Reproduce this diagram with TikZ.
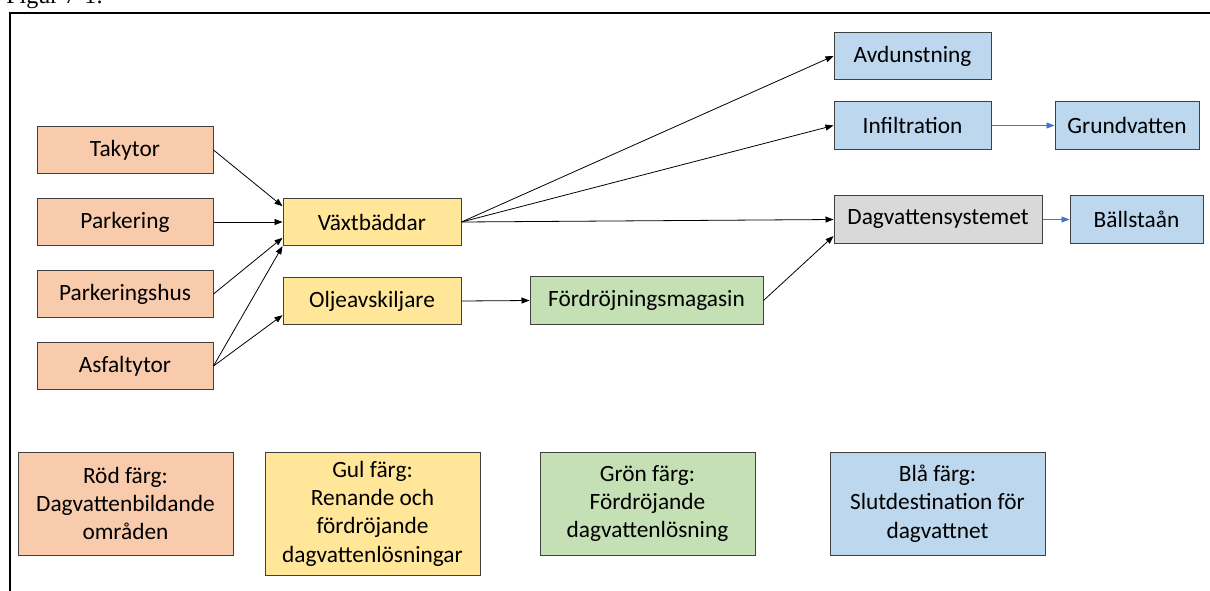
\documentclass[tikz,border=0pt]{standalone}
\usepackage{fontspec}
\setmainfont{Carlito}
\newfontfamily\figfont{Liberation Serif}
\usetikzlibrary{arrows.meta}
\definecolor{ytor}{HTML}{F8CBAD}
\definecolor{rening}{HTML}{FFE699}
\definecolor{magasin}{HTML}{C5E0B4}
\definecolor{slut}{HTML}{BDD7EE}
\definecolor{ledning}{HTML}{D9D9D9}
\definecolor{kant}{HTML}{404040}
\definecolor{blapil}{HTML}{4472C4}

\begin{document}
\begin{tikzpicture}[x=0.75pt, y=-0.75pt,
	box/.style={draw=kant, line width=0.75pt, minimum height=35.5pt, inner sep=0pt,
		align=center, font=\fontsize{17.5}{21.25}\selectfont},
	legend/.style={box, minimum width=161.25pt, minimum height=77.25pt},
	flow/.style={-{Triangle[length=6pt, width=4.5pt]}, line width=0.6pt},
	blueflow/.style={flow, draw=blapil}]
	\useasboundingbox (0,0) rectangle (1210,590);

	\node (fig) at (6,3) [anchor=base west, inner sep=0pt, font=\figfont\fontsize{18}{20}\selectfont] {Figur 7-1:};
	\draw[line width=1.5pt] (10,13) rectangle (1240,620);

	% Sources
	\node (tak)  at (125,150) [box, fill=ytor, minimum width=132pt] {Takytor};
	\node (park) at (125,222) [box, fill=ytor, minimum width=132pt] {Parkering};
	\node (phus) at (125,294) [box, fill=ytor, minimum width=132pt] {Parkeringshus};
	\node (asf)  at (125,366) [box, fill=ytor, minimum width=132pt] {Asfaltytor};

	% Treatment
	\node (vaxt) at (372,222)   [box, fill=rening, minimum width=133.5pt] {Växtbäddar};
	\node (olja) at (372,301)   [box, fill=rening, minimum width=133.5pt] {Oljeavskiljare};
	\node (ford) at (646.5,300.5) [box, fill=magasin, minimum width=174.75pt] {Fördröjningsmagasin};

	% Destinations
	\node (avd)  at (912.5,56)    [box, fill=slut, minimum width=117.75pt] {Avdunstning};
	\node (inf)  at (912.5,125.5) [box, fill=slut, minimum width=117.75pt] {Infiltration};
	\node (grv)  at (1127,125.5)  [box, fill=slut, minimum width=108pt] {Grundvatten};
	\node (dagv) at (938,219.5)   [box, fill=ledning, minimum width=156pt] {Dagvattensystemet};
	\node (bal)  at (1136.5,219.5) [box, fill=slut, minimum width=99.75pt] {Bällstaån};

	% Legend
	\node (lrod) at (125.5,503.5) [legend, fill=ytor] {Röd färg:\\Dagvattenbildande\\områden};
	\node (lgul) at (372.5,513.5) [legend, fill=rening, minimum height=92.25pt] {Gul färg:\\Renande och\\fördröjande\\dagvattenlösningar};
	\node (lgro) at (647.5,503.5) [legend, fill=magasin] {Grön färg:\\Fördröjande\\dagvattenlösning};
	\node (lbla) at (937.5,503.5) [legend, fill=slut] {Blå färg:\\Slutdestination för\\dagvattnet};

	% Draw the flows between the nodes
	\draw[flow] (tak.east) -- (vaxt.170);
	\draw[flow] (park.east) -- (vaxt.west);
	\draw[flow] (phus.east) -- (vaxt.190);
	\draw[flow] (asf.east) -- (vaxt.south west);
	\draw[flow] (asf.east) -- (olja.189);
	\draw[flow] (vaxt.east) -- (avd.west);
	\draw[flow] (vaxt.east) -- (inf.west);
	\draw[flow] (vaxt.east) -- (dagv.west);
	\draw[flow] (olja.east) -- (ford.west);
	\draw[flow] (ford.east) -- (dagv.189);
	\draw[blueflow] (inf.east) -- (grv.west);
	\draw[blueflow] (dagv.east) -- (bal.west);
\end{tikzpicture}
\end{document}
